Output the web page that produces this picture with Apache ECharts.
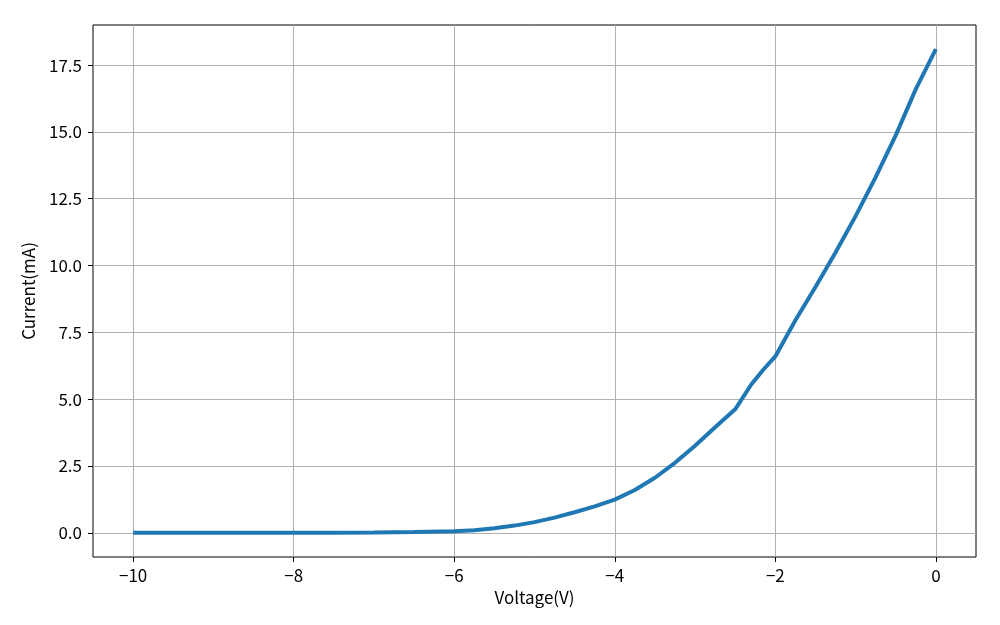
<!DOCTYPE html>
<html>
<head>
<meta charset="utf-8">
<script src="https://cdn.jsdelivr.net/npm/echarts@6/dist/echarts.min.js"></script>
<style>
  html, body { margin: 0; padding: 0; background: #fff; }
  #chart { width: 1000px; height: 625px; }
</style>
</head>
<body>
<div id="chart"></div>
<script>
// 电压 (V)
const voltage = [-10, -9, -8, -7.5, -7, -6.5, -6, -5.75, -5.5, -5.25, -5, -4.75, -4.5, -4.25, -4,
  -3.75, -3.5, -3.25, -3, -2.75, -2.5, -2.3, -2.15, -2, -1.75, -1.5, -1.25, -1, -0.75, -0.5, -0.25, 0]
// 电流 (mA)
const current = [0, 0, 0, 0.005, 0.015, 0.035, 0.06, 0.1, 0.17, 0.27, 0.4, 0.57, 0.77, 0.99, 1.24,
  1.6, 2.06, 2.62, 3.26, 3.95, 4.62, 5.55, 6.1, 6.6, 7.95, 9.2, 10.49, 11.85, 13.31, 14.87, 16.6, 18.1]

const xTicks = [-10, -8, -6, -4, -2, 0]
const yTicks = [0, 2.5, 5, 7.5, 10, 12.5, 15, 17.5]

const font = '"Noto Sans CJK SC", sans-serif'
const gridColor = '#b0b0b0'

const chart = echarts.init(document.getElementById('chart'))

const pts = voltage.map((v, i) => [v, current[i]])

const option = {
  animation: false,
  backgroundColor: '#fff',
  grid: {
    left: 93, right: 24, top: 25, bottom: 68,
    show: true,
    borderColor: '#000',
    borderWidth: 1,
    backgroundColor: 'transparent'
  },
  xAxis: {
    type: 'value',
    min: -10.5,
    max: 0.5,
    name: 'Voltage(V)',
    nameLocation: 'middle',
    nameGap: 31,
    nameTextStyle: { color: '#000', fontSize: 17, fontFamily: font },
    axisLine: { show: false, onZero: false },
    axisTick: { show: true, customValues: xTicks, length: 5, lineStyle: { color: '#000' } },
    axisLabel: {
      customValues: xTicks,
      color: '#000', fontSize: 17, fontFamily: font, margin: 10,
      formatter: v => String(v).replace('-', '\u2212')
    },
    splitLine: { show: true, customValues: xTicks, lineStyle: { color: gridColor, width: 1 } }
  },
  yAxis: {
    type: 'value',
    min: -0.905,
    max: 19.0,
    name: 'Current(mA)',
    nameLocation: 'middle',
    nameGap: 56,
    nameTextStyle: { color: '#000', fontSize: 17, fontFamily: font },
    axisLine: { show: false, onZero: false },
    axisTick: { show: true, customValues: yTicks, length: 5, lineStyle: { color: '#000' } },
    axisLabel: {
      customValues: yTicks,
      color: '#000', fontSize: 17, fontFamily: font, margin: 11,
      formatter: v => v.toFixed(1)
    },
    splitLine: { show: true, customValues: yTicks, lineStyle: { color: gridColor, width: 1 } }
  },
  series: [
    {
      type: 'line',
      data: pts,
      showSymbol: false,
      symbol: 'none',
      lineStyle: { color: '#1f77b4', width: 4 },
      z: 3
    }
  ]
}

chart.setOption(option)
</script>
</body>
</html>
